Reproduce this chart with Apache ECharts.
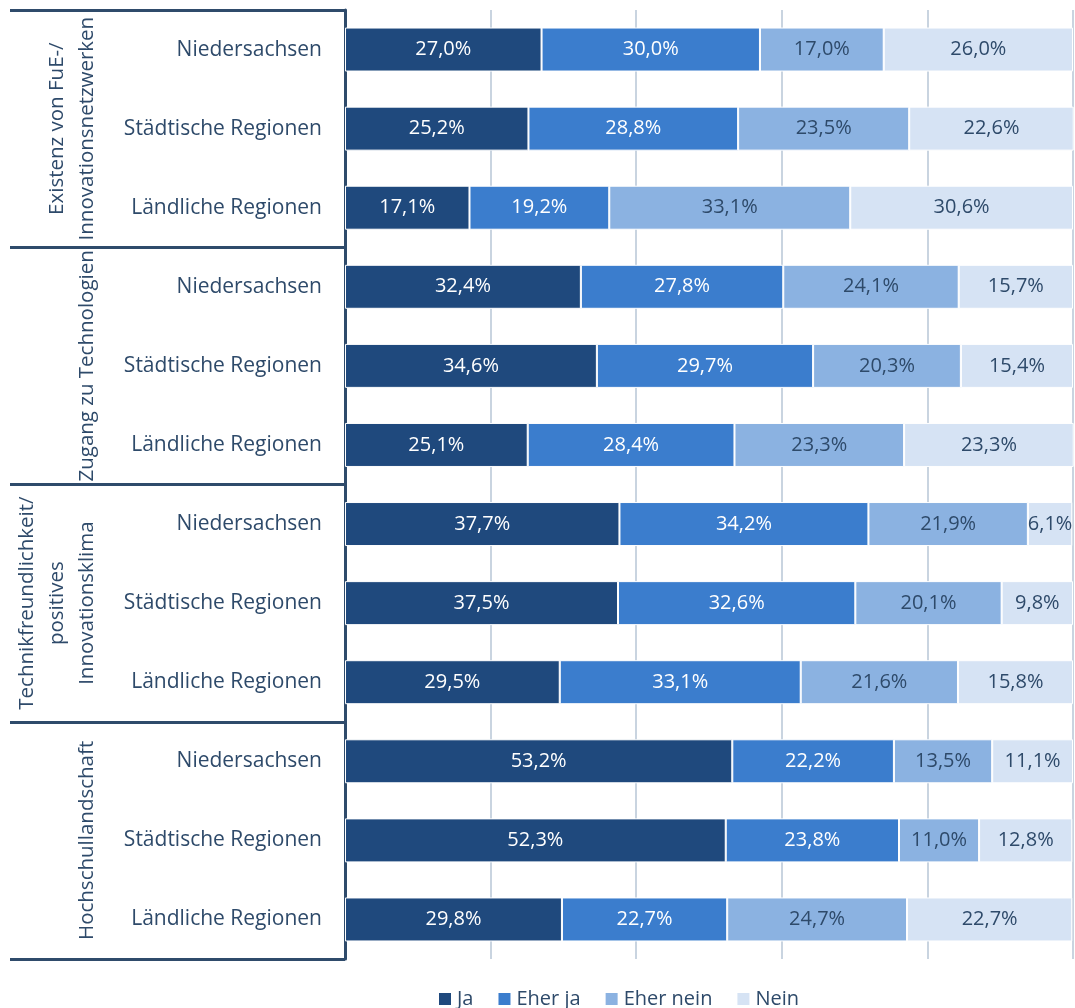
<!DOCTYPE html>
<html>
<head>
<meta charset="utf-8">
<script src="https://cdn.jsdelivr.net/npm/echarts@6/dist/echarts.min.js"></script>
<style>
  html, body { margin: 0; padding: 0; background: #fff; }
  #chart { width: 1075px; height: 1008px; }
</style>
</head>
<body>
<div id="chart"></div>
<script>
// Regions shown for each topic (rows, top to bottom)
const regions = [
  'Niedersachsen', 'Städtische Regionen', 'Ländliche Regionen',
  'Niedersachsen', 'Städtische Regionen', 'Ländliche Regionen',
  'Niedersachsen', 'Städtische Regionen', 'Ländliche Regionen',
  'Niedersachsen', 'Städtische Regionen', 'Ländliche Regionen'
];
// Topic groups, three rows each
const topics = [
  'Existenz von FuE-/\nInnovationsnetzwerken',
  'Zugang zu Technologien',
  'Technikfreundlichkeit/\npositives\nInnovationsklima',
  'Hochschullandschaft'
];
const seriesNames = ['Ja', 'Eher ja', 'Eher nein', 'Nein'];
// Shares in percent
const ja       = [27.0, 25.2, 17.1, 32.4, 34.6, 25.1, 37.7, 37.5, 29.5, 53.2, 52.3, 29.8];
const eherJa   = [30.0, 28.8, 19.2, 27.8, 29.7, 28.4, 34.2, 32.6, 33.1, 22.2, 23.8, 22.7];
const eherNein = [17.0, 23.5, 33.1, 24.1, 20.3, 23.3, 21.9, 20.1, 21.6, 13.5, 11.0, 24.7];
const nein     = [26.0, 22.6, 30.6, 15.7, 15.4, 23.3, 6.1, 9.8, 15.8, 11.1, 12.8, 22.7];

const colors = ['#1f497d', '#3b7dcd', '#8bb2e1', '#d6e3f4'];
const labelColors = ['#ffffff', '#ffffff', '#2e4a6a', '#2e4a6a'];
const textColor = '#2e4a6a';
const lineColor = '#2f4b6b';
const font = 'Open Sans';

const values = [ja, eherJa, eherNein, nein];

const chart = echarts.init(document.getElementById('chart'), null, { renderer: 'canvas' });

chart.setOption({
  animation: false,
  textStyle: { fontFamily: font },
  grid: { left: 345, right: 2, top: 10, bottom: 49, containLabel: false },
  legend: {
    data: seriesNames,
    left: 432,
    top: 984,
    itemWidth: 14,
    itemHeight: 14,
    itemGap: 23,
    icon: 'rect',
    textStyle: { fontSize: 20, color: textColor, fontFamily: font }
  },
  xAxis: {
    type: 'value',
    min: 0,
    max: 100,
    interval: 20,
    axisLabel: { show: false },
    axisLine: { show: false },
    axisTick: { show: false },
    splitLine: { show: true, lineStyle: { color: '#c9d4e0', width: 2 } }
  },
  yAxis: [
    {
      type: 'category',
      data: regions,
      inverse: true,
      axisLine: { show: false },
      axisTick: { show: false },
      axisLabel: { interval: 0, margin: 23, fontSize: 21, color: textColor, fontFamily: font }
    },
    {
      type: 'category',
      data: topics,
      inverse: true,
      position: 'left',
      axisLine: { show: true, lineStyle: { color: lineColor, width: 3 } },
      axisTick: { show: true, interval: 0, length: 335, lineStyle: { color: lineColor, width: 3 } },
      axisLabel: {
        interval: 0,
        hideOverlap: false,
        rotate: 90,
        margin: 243,
        align: 'center',
        verticalAlign: 'bottom',
        lineHeight: 30,
        fontSize: 20.5,
        color: textColor,
        fontFamily: font
      }
    }
  ],
  series: seriesNames.map((name, i) => ({
    name: name,
    type: 'bar',
    stack: 'total',
    yAxisIndex: 0,
    barWidth: 44,
    clip: false,
    data: values[i],
    itemStyle: { color: colors[i], borderColor: '#ffffff', borderWidth: 1 },
    label: {
      show: true,
      position: 'inside',
      fontSize: 20,
      color: labelColors[i],
      fontFamily: font,
      formatter: p => p.value.toFixed(1).replace('.', ',') + '%'
    }
  }))
});
</script>
</body>
</html>
